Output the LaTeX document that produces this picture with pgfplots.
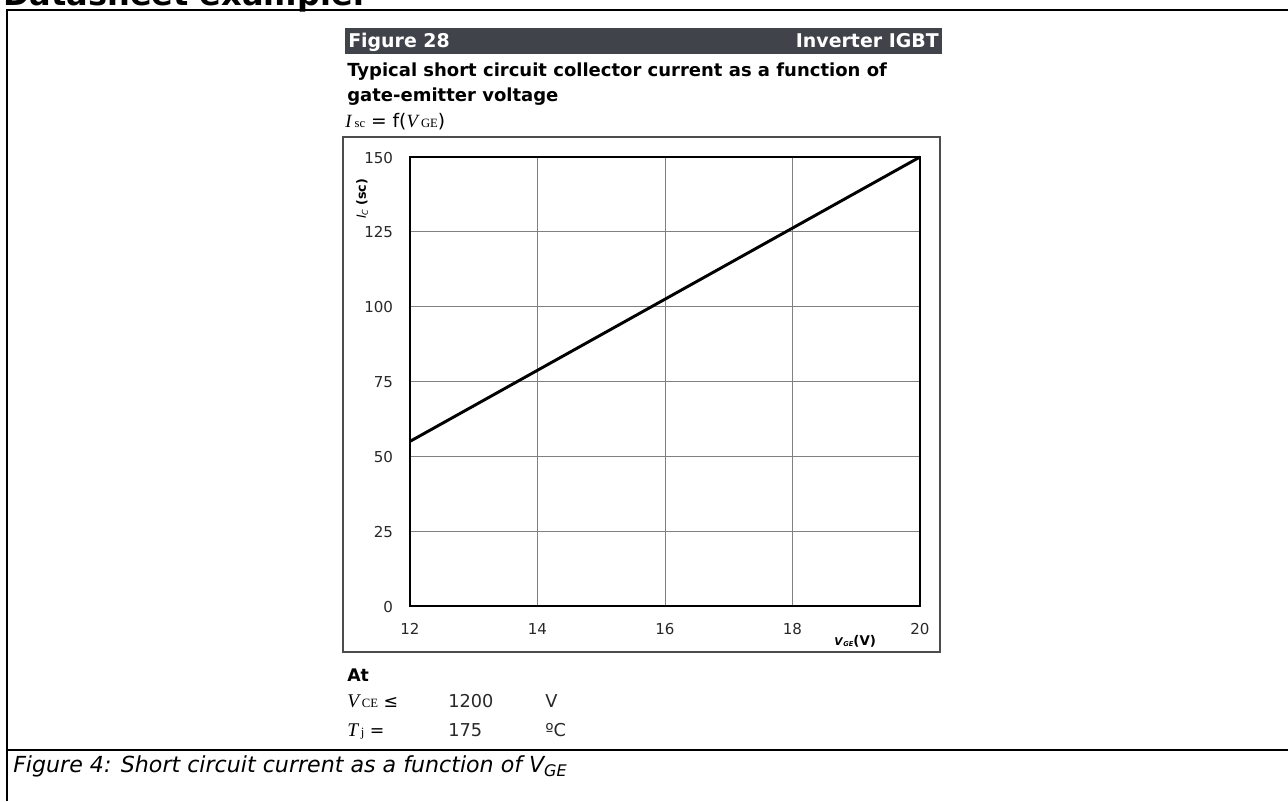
\documentclass[border=0pt]{standalone}
\usepackage{pgfplots}
\pgfplotsset{compat=1.18}
\usepackage{fontspec}
\setmainfont{DejaVu Sans}
\newfontfamily\serif{Liberation Serif}
\definecolor{hdr}{RGB}{64,68,74}
\definecolor{txt}{RGB}{40,40,40}
\begin{document}
\begin{tikzpicture}
\begin{axis}[
  at={(0,0)}, anchor=south west,
  scale only axis, width=382.5pt, height=336.75pt,
  xmin=12,xmax=20,ymin=0,ymax=150,
  xtick={12,14,16,18,20}, ytick={0,25,...,150},
  major tick length=0pt,
  grid=major, major grid style={black!50, line width=0.55pt},
  axis line style={black, line width=1.1pt},
  tick label style={font=\fontsize{11.3}{13}\selectfont, text=txt, inner sep=0pt},
  /pgf/number format/assume math mode=true,
  xticklabel style={anchor=base, yshift=-21.5pt},
  yticklabel style={anchor=base east, xshift=-12.5pt, yshift=-4.5pt},
  xlabel={\fontsize{8}{9}\selectfont\textbf{\textit{V}}\raisebox{-0.3ex}{\fontsize{5}{6}\selectfont\textbf{\textit{GE}}}\fontsize{10}{12}\selectfont\textbf{(V)}},
  xlabel style={at={(axis description cs:0.873,-0.078)}, anchor=center, inner sep=0pt},
  ylabel={\fontsize{9.5}{11}\selectfont\textit{I}\raisebox{-0.3ex}{\fontsize{6}{7}\selectfont\textit{C}}\ \textbf{(sc)}},
  ylabel style={at={(axis description cs:-0.094,0.907)}, anchor=center, rotate=0, inner sep=0pt},
  clip=false,
]
\addplot[black, line width=2.2pt] coordinates {(12,55) (20,150)};
\end{axis}
\begin{scope}[x=0.75pt,y=-0.75pt,shift={(-307.5pt,454.5pt)}]
\useasboundingbox (0,0) rectangle (1288,801);
% top cut title
\node[anchor=base west, inner sep=0pt] at (3,6) {\fontsize{24}{28}\selectfont\bfseries Datasheet example:};
% frame
\draw[line width=1.6pt] (7,801) -- (7,10) -- (1288,10);
\draw[line width=1.6pt] (7,750) -- (1288,750);
% header bar
\fill[hdr] (345,28) rectangle (942,54);
\node[anchor=base west, inner sep=0pt, text=white] at (348,48) {\fontsize{14.2}{16}\selectfont\bfseries Figure 28};
\node[anchor=base east, inner sep=0pt, text=white] at (939,48) {\fontsize{14.2}{16}\selectfont\bfseries Inverter IGBT};
% title
\node[anchor=base west, inner sep=0pt] at (347,77) {\fontsize{13.5}{16}\selectfont\bfseries Typical short circuit collector current as a function of};
\node[anchor=base west, inner sep=0pt] at (347,102) {\fontsize{13.5}{16}\selectfont\bfseries gate-emitter voltage};
\node[anchor=base west, inner sep=0pt] at (345,128) {\fontsize{14}{16}\selectfont{\serif\itshape I}\,{\serif\fontsize{9.5}{10}\selectfont sc} = f({\serif\itshape V}\,{\serif\fontsize{9.5}{10}\selectfont GE})};
% plot box
\draw[black!70, line width=1.2pt] (343,137) rectangle (940,652);
% conditions
\node[anchor=base west, inner sep=0pt] at (347,681) {\fontsize{13}{15}\selectfont\bfseries At};
\node[anchor=base west, inner sep=0pt] at (347,707) {\fontsize{13}{15}\selectfont{\serif\itshape\fontsize{14.5}{15}\selectfont V}\,{\serif\fontsize{9.5}{10}\selectfont CE} ≤};
\node[anchor=base west, inner sep=0pt, text=txt] at (448,707) {\fontsize{13.3}{15}\selectfont 1200};
\node[anchor=base west, inner sep=0pt, text=txt] at (545,707) {\fontsize{13.3}{15}\selectfont V};
\node[anchor=base west, inner sep=0pt] at (347,736) {\fontsize{13}{15}\selectfont{\serif\itshape\fontsize{14.5}{15}\selectfont T}\,{\serif\fontsize{9.5}{10}\selectfont j} =};
\node[anchor=base west, inner sep=0pt, text=txt] at (448,736) {\fontsize{13.3}{15}\selectfont 175};
\node[anchor=base west, inner sep=0pt, text=txt] at (545,736) {\fontsize{13.3}{15}\selectfont ºC};
% caption
\node[anchor=base west, inner sep=0pt] at (13,772) {\fontsize{16.6}{18}\selectfont\itshape Figure 4: Short circuit current as a function of V\raisebox{-0.35ex}{\fontsize{12}{13}\selectfont GE}};
\end{scope}
\end{tikzpicture}
\end{document}
